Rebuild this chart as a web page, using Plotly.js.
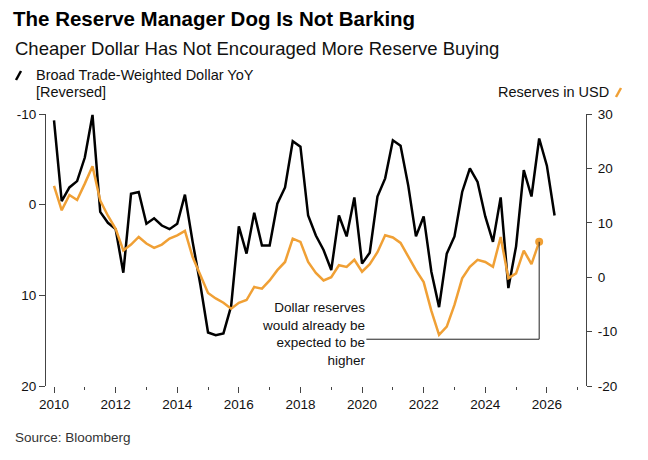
<!DOCTYPE html>
<html>
<head>
<meta charset="utf-8">
<script src="https://cdn.plot.ly/plotly-3.0.1.min.js"></script>
<style>
  body { margin: 0; background: #fff; }
  #chart { width: 648px; height: 460px; }
</style>
</head>
<body>
<div id="chart"></div>
<script>
// quarterly observations, first one is Q1 2010
let startYear = 2010;

// Broad Trade-Weighted Dollar YoY %, drawn on the reversed left axis
let dollarYoY = [
    -9.3, -0.4, -1.9, -2.6, -5.2, -9.9, 0.8, 2.0,
    2.7, 7.5, -1.2, -1.4, 2.1, 1.5, 2.3, 2.7,
    2.1, -1.1, 4.1, 8.8, 14.1, 14.4, 14.2, 11.2,
    2.4, 5.4, 0.9, 4.5, 4.5, -0.1, -1.9, -7.0,
    -6.4, 1.2, 3.4, 5.0, 7.2, 1.2, 3.5, -0.8,
    6.5, 5.3, -0.9, -2.9, -7.1, -6.5, -2.1, 3.5,
    1.3, 7.4, 11.3, 5.4, 3.5, -1.4, -4.0, -2.5,
    1.3, 4.1, -0.8, 9.2, 4.6, -3.8, -0.9, -7.3,
    -4.3, 1.2
];

// Reserves in USD YoY %, right axis
let reservesUSD = [
    16.8, 12.3, 15.1, 14.2, 17.2, 20.4, 14.1, 11.3,
    8.9, 4.9, 6.0, 7.4, 6.2, 5.4, 6.0, 7.1,
    7.7, 8.5, 3.7, 0.4, -2.9, -3.9, -4.7, -5.8,
    -4.7, -4.2, -1.8, -2.1, -0.6, 1.3, 2.8, 7.1,
    6.5, 2.8, 0.8, -0.6, 0.0, 2.2, 1.9, 3.2,
    1.0, 2.4, 4.6, 7.7, 7.3, 6.3, 3.8, 1.3,
    -0.9, -6.2, -10.6, -9.1, -5.1, -0.2, 1.9, 3.2,
    2.8, 1.9, 7.4, -0.2, 0.7, 4.9, 2.4, 6.5
];

let yearTicks = [2010, 2012, 2014, 2016, 2018, 2020, 2022, 2024, 2026];
let leftTicks = [-10, 0, 10, 20];
let rightTicks = [-20, -10, 0, 10, 20, 30];

let noteLines = ['Dollar reserves', 'would already be', 'expected to be', 'higher'];

let black = '#000000';
let orange = '#F0A035';
let font = 'Liberation Sans, Arial, sans-serif';

function quarters(n) {
    let out = [];
    for (let i = 0; i < n; i++) {
        out.push(startYear + i * 0.25);
    }
    return out;
}

// plain hyphen labels, plotly would use a unicode minus
function labels(ticks) {
    return ticks.map(function(v) { return String(v); });
}

let xDollar = quarters(dollarYoY.length);
let xReserves = quarters(reservesUSD.length);
let lastX = xReserves[xReserves.length - 1];
let lastVal = reservesUSD[reservesUSD.length - 1];

// plot box in pixels, used to place things outside it
let box = {l: 46, r: 586, t: 114, b: 386};
function px(x) { return (x - box.l) / (box.r - box.l); }
function py(y) { return (box.b - y) / (box.b - box.t); }

let data = [
    {
        type: 'scatter',
        mode: 'lines',
        x: xDollar,
        y: dollarYoY,
        yaxis: 'y',
        line: {color: black, width: 2.5},
        hoverinfo: 'skip'
    },
    {
        type: 'scatter',
        mode: 'lines',
        x: xReserves,
        y: reservesUSD,
        yaxis: 'y2',
        line: {color: orange, width: 2.5},
        hoverinfo: 'skip'
    },
    {
        type: 'scatter',
        mode: 'markers',
        x: [lastX],
        y: [lastVal],
        yaxis: 'y2',
        marker: {color: orange, size: 8},
        hoverinfo: 'skip'
    }
];

let annotations = [
    {
        xref: 'paper', yref: 'paper', x: px(13), y: py(48),
        xanchor: 'left', yanchor: 'middle', showarrow: false,
        text: 'Cheaper Dollar Has Not Encouraged More Reserve Buying',
        font: {family: font, size: 18.5, color: '#111'}
    },
    {
        xref: 'paper', yref: 'paper', x: px(34), y: py(75),
        xanchor: 'left', yanchor: 'middle', showarrow: false,
        text: 'Broad Trade-Weighted Dollar YoY',
        font: {family: font, size: 14.5, color: '#111'}
    },
    {
        xref: 'paper', yref: 'paper', x: px(34), y: py(92),
        xanchor: 'left', yanchor: 'middle', showarrow: false,
        text: '[Reversed]',
        font: {family: font, size: 14.5, color: '#111'}
    },
    {
        xref: 'paper', yref: 'paper', x: px(611), y: py(92),
        xanchor: 'right', yanchor: 'middle', showarrow: false,
        text: 'Reserves in USD',
        font: {family: font, size: 14.5, color: '#111'}
    },
    {
        xref: 'paper', yref: 'paper', x: px(13), y: py(437),
        xanchor: 'left', yanchor: 'middle', showarrow: false,
        text: 'Source: Bloomberg',
        font: {family: font, size: 13.5, color: '#333'}
    },
    // the note next to the connector
    {
        xref: 'paper', yref: 'paper', x: px(367), y: py(334),
        xanchor: 'right', yanchor: 'middle', align: 'right',
        showarrow: false, borderpad: 0,
        text: noteLines.join('<br>'),
        font: {family: font, size: 13.5, color: '#111'}
    }
];

let shapes = [
    // legend keys
    {type: 'line', xref: 'paper', yref: 'paper',
     x0: px(16), y0: py(80), x1: px(21), y1: py(71),
     line: {color: black, width: 2.5}},
    {type: 'line', xref: 'paper', yref: 'paper',
     x0: px(616), y0: py(97), x1: px(621), y1: py(88),
     line: {color: orange, width: 2.5}},
    // connector from the note to the last reserves point
    {type: 'path', xref: 'x', yref: 'y2',
     path: 'M 2020.14,-11.4 L ' + lastX + ',-11.4 L ' + lastX + ',' + lastVal,
     line: {color: '#222', width: 1}}
];

let layout = {
    width: 648,
    height: 460,
    margin: {l: box.l, r: 648 - box.r, t: box.t, b: 460 - box.b},
    paper_bgcolor: '#fff',
    plot_bgcolor: '#fff',
    showlegend: false,
    title: {
        text: '<b>The Reserve Manager Dog Is Not Barking</b>',
        x: 13 / 648, xanchor: 'left',
        y: 1 - 19 / 460, yanchor: 'middle',
        font: {family: font, size: 20.5, color: '#000'}
    },
    xaxis: {
        range: [2009.74, 2027.27],
        tickmode: 'array',
        tickvals: yearTicks,
        ticktext: labels(yearTicks),
        ticks: 'outside',
        ticklen: 6,
        tickcolor: '#444',
        showline: false,
        showgrid: false,
        zeroline: false,
        minor: {ticks: 'outside', ticklen: 3, tickcolor: '#444', tickmode: 'linear', tick0: 2011, dtick: 2},
        tickfont: {family: font, size: 13.5, color: '#111'}
    },
    yaxis: {
        range: [20, -10],
        tickmode: 'array',
        tickvals: leftTicks,
        ticktext: labels(leftTicks),
        ticks: 'outside',
        ticklen: 6,
        tickcolor: '#444',
        showline: true,
        linecolor: '#444',
        linewidth: 1,
        showgrid: false,
        zeroline: false,
        tickfont: {family: font, size: 13.5, color: '#111'}
    },
    yaxis2: {
        overlaying: 'y',
        side: 'right',
        range: [-20, 30],
        tickmode: 'array',
        tickvals: rightTicks,
        ticktext: labels(rightTicks),
        ticks: 'outside',
        ticklen: 5,
        tickcolor: '#444',
        showline: true,
        linecolor: '#444',
        linewidth: 1,
        showgrid: false,
        zeroline: false,
        ticklabelstandoff: 3,
        tickfont: {family: font, size: 13.5, color: '#111'}
    },
    annotations: annotations,
    shapes: shapes
};

Plotly.newPlot('chart', data, layout, {displayModeBar: false, staticPlot: true});
</script>
</body>
</html>
